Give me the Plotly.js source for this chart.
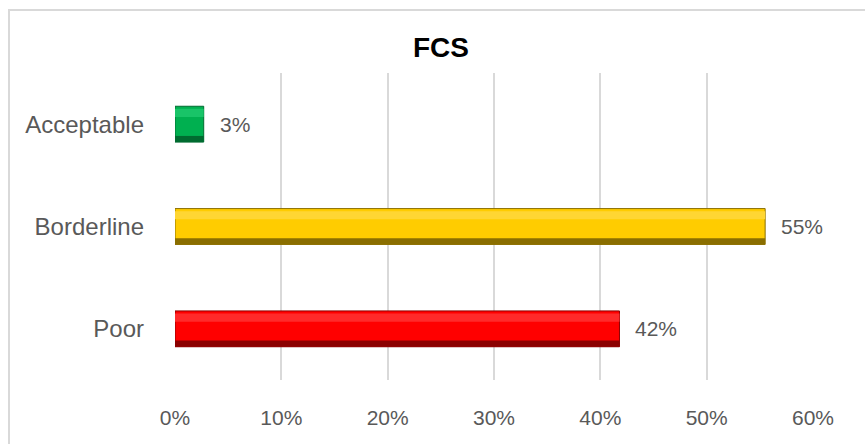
<!DOCTYPE html>
<html>
<head>
<meta charset="utf-8">
<script src="https://cdn.plot.ly/plotly-3.0.1.min.js"></script>
<style>
html,body{margin:0;padding:0;background:#fff;}
#chart{width:865px;height:444px;}
</style>
</head>
<body>
<div id="chart"></div>
<script>
var categories = ['Acceptable', 'Borderline', 'Poor'];
var values = [2.7, 55.5, 41.8];
var valueLabels = ['3%', '55%', '42%'];
var baseColors = ['#00B050', '#FFCC00', '#FF0000'];
var lightColors = ['#19c468', '#ffd633', '#ff2a2a'];
var darkColors = ['#006b30', '#8a6e00', '#8b0000'];
var xTickVals = [0, 10, 20, 30, 40, 50, 60];
var xTickText = ['0%', '10%', '20%', '30%', '40%', '50%', '60%'];

var W = 865, H = 444;
var mL = 175, mR = 52, mT = 73, mB = 64;
var pw = W - mL - mR, ph = H - mT - mB;
function px(x){ return (x - mL) / pw; }
function py(y){ return (H - mB - y) / ph; }

var FONT = 'Liberation Sans, Arial, sans-serif';
var barW = 0.35;
var traces = [
  {
    type: 'bar', orientation: 'h', y: categories, x: values,
    width: barW,
    marker: {color: baseColors, line: {color: darkColors, width: 1}},
    hoverinfo: 'skip'
  },
  {
    type: 'bar', orientation: 'h', y: categories, x: values,
    width: 0.08, offset: 0.07,
    marker: {color: lightColors, line: {width: 0}},
    hoverinfo: 'skip'
  },
  {
    type: 'bar', orientation: 'h', y: categories, x: values,
    width: 0.06, offset: -barW/2,
    marker: {color: darkColors, line: {width: 0}},
    hoverinfo: 'skip'
  }
];

var annotations = categories.map(function(c, i){
  return {
    x: values[i], y: c, xref: 'x', yref: 'y',
    text: valueLabels[i], showarrow: false,
    xanchor: 'left', yanchor: 'middle', xshift: 14,
    font: {family: FONT, size: 21, color: '#595959'}
  };
});

var layout = {
  width: W, height: H,
  margin: {l: mL, r: mR, t: mT, b: mB, pad: 0},
  paper_bgcolor: '#ffffff', plot_bgcolor: '#ffffff',
  showlegend: false,
  barmode: 'overlay',
  title: {
    text: '<b>FCS</b>',
    x: 441 / W, xanchor: 'center', xref: 'container',
    y: 1 - 47 / H, yanchor: 'middle', yref: 'container',
    font: {family: FONT, size: 28, color: '#000000'}
  },
  xaxis: {
    range: [0, 60], tickvals: xTickVals, ticktext: xTickText,
    showgrid: true, gridcolor: '#d9d9d9', gridwidth: 2,
    zeroline: false, showline: false, ticks: '',
    ticklabelstandoff: 23,
    tickfont: {family: FONT, size: 21, color: '#595959'},
    fixedrange: true
  },
  yaxis: {
    type: 'category', categoryorder: 'array', categoryarray: categories.slice().reverse(),
    range: [-0.5, 2.5],
    showgrid: false, zeroline: false, showline: false, ticks: '',
    ticklabelstandoff: 30,
    tickfont: {family: FONT, size: 24, color: '#595959'},
    fixedrange: true
  },
  annotations: annotations,
  shapes: [{
    type: 'rect', xref: 'paper', yref: 'paper',
    x0: px(9), x1: px(866), y0: py(450), y1: py(10),
    line: {color: '#d9d9d9', width: 2}, fillcolor: 'rgba(0,0,0,0)', layer: 'below'
  }]
};

Plotly.newPlot('chart', traces, layout, {displayModeBar: false, staticPlot: true});
</script>
</body>
</html>
